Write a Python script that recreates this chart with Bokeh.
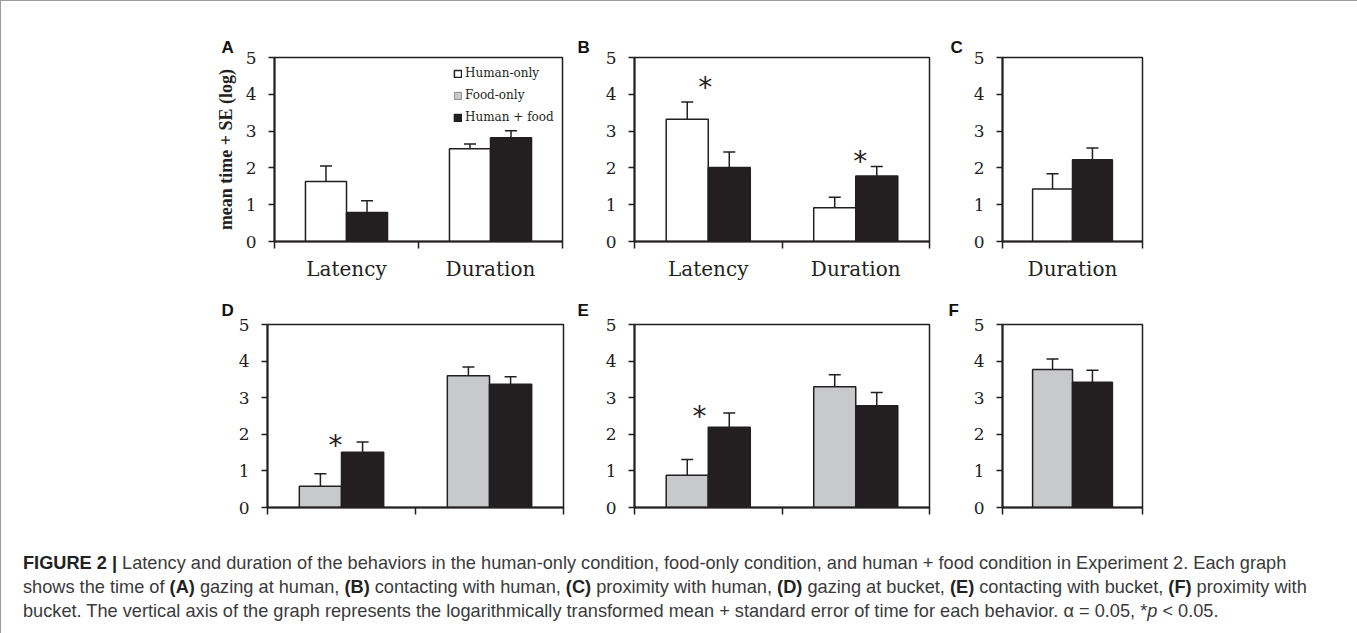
from bokeh.plotting import figure
from bokeh.models import (Range1d, LinearAxis, FixedTicker, Title,
                          Legend, LegendItem, ColumnDataSource, Div)
from bokeh.layouts import column, row
from bokeh.transform import dodge
from bokeh.core.properties import value
from bokeh.embed import file_html
from bokeh.resources import INLINE

# ---------------- data ----------------
conditions = ["Human-only", "Food-only", "Human + food"]
cond_fill = {"Human-only": "#ffffff", "Food-only": "#c8c9cb", "Human + food": "#231f20"}

cats_two = ["Latency", "Duration"]
cats_one = ["Duration"]

# (A) gazing at human
A_human_only_mean = [1.63, 2.52]
A_human_only_se = [0.42, 0.13]
A_human_food_mean = [0.79, 2.82]
A_human_food_se = [0.32, 0.19]
# (B) contacting with human
B_human_only_mean = [3.32, 0.92]
B_human_only_se = [0.47, 0.28]
B_human_food_mean = [2.01, 1.78]
B_human_food_se = [0.42, 0.26]
# (C) proximity with human
C_human_only_mean = [1.43]
C_human_only_se = [0.41]
C_human_food_mean = [2.22]
C_human_food_se = [0.32]
# (D) gazing at bucket
D_food_only_mean = [0.58, 3.60]
D_food_only_se = [0.34, 0.24]
D_human_food_mean = [1.51, 3.37]
D_human_food_se = [0.28, 0.20]
# (E) contacting with bucket
E_food_only_mean = [0.88, 3.30]
E_food_only_se = [0.43, 0.33]
E_human_food_mean = [2.19, 2.78]
E_human_food_se = [0.39, 0.36]
# (F) proximity with bucket
F_food_only_mean = [3.77]
F_food_only_se = [0.29]
F_human_food_mean = [3.42]
F_human_food_se = [0.33]

# significance stars (category, height in axis units)
B_star_cats = ["Latency", "Duration"]
B_star_y = [4.30, 2.29]
D_star_cats = ["Latency"]
D_star_y = [1.79]
E_star_cats = ["Latency"]
E_star_y = [2.59]

y_ticks = [0, 1, 2, 3, 4, 5]

INK = "#231f20"
SERIF = "DejaVu Serif"
BAR_W = 0.285
HALF = BAR_W / 2


def panel(letter, cats, series, width, height, bl, br, bt, bb, letter_off, letter_standoff,
          show_labels=True, ylabel=None, legend=False, stars=None):
    n = len(cats)
    centre = {c: i + 0.5 for i, c in enumerate(cats)}   # category slot centres on the x scale
    p = figure(x_range=Range1d(0, n), y_range=Range1d(0, 5),
               width=width, height=height, min_border_left=bl, min_border_right=br,
               min_border_top=bt, min_border_bottom=bb, x_axis_type=None,
               output_backend="svg", toolbar_location=None, tools="", title=None)
    p.background_fill_color = "white"
    p.border_fill_color = "white"
    p.outline_line_color = INK
    p.outline_line_width = 1.5
    p.xgrid.visible = False
    p.ygrid.visible = False

    # panel letter as a left-aligned title pushed out past the y axis
    p.add_layout(Title(text=letter, align="left", offset=letter_off, standoff=letter_standoff,
                       text_font="Liberation Sans", text_font_style="bold",
                       text_font_size="17px", text_color="#111111",
                       vertical_align="bottom"), "above")

    # y axis
    ya = p.yaxis[0]
    ya.ticker = FixedTicker(ticks=y_ticks, minor_ticks=[])
    ya.axis_line_color = INK
    ya.axis_line_width = 2
    ya.major_tick_line_color = INK
    ya.major_tick_line_width = 1.5
    ya.major_tick_out = 6
    ya.major_tick_in = 0
    ya.minor_tick_line_color = None
    ya.major_label_text_font = SERIF
    ya.major_label_text_font_size = "17px"
    ya.major_label_text_color = INK
    ya.major_label_standoff = 12
    if ylabel:
        ya.axis_label = ylabel
        ya.axis_label_text_font = "Liberation Serif"
        ya.axis_label_text_font_style = "bold"
        ya.axis_label_text_font_size = "18px"
        ya.axis_label_text_color = INK
        ya.axis_label_standoff = 7

    # x axis: labels at category centres, ticks at category boundaries
    overrides = {centre[c]: (c if show_labels else "") for c in cats}
    xa = LinearAxis(ticker=FixedTicker(ticks=[centre[c] for c in cats],
                                       minor_ticks=[float(i) for i in range(n + 1)]),
                    major_label_overrides=overrides)
    xa.axis_line_color = INK
    xa.axis_line_width = 2
    xa.major_tick_line_color = None
    xa.major_tick_out = 0
    xa.major_tick_in = 0
    xa.minor_tick_line_color = INK
    xa.minor_tick_line_width = 1.5
    xa.minor_tick_out = 7
    xa.minor_tick_in = 0
    xa.major_label_text_font = SERIF
    xa.major_label_text_font_size = "20px"
    xa.major_label_text_color = INK
    xa.major_label_standoff = 8
    p.add_layout(xa, "below")

    renderers = {}
    offsets = [-HALF, HALF]
    for (cond, mean, se), off in zip(series, offsets):
        upper = [m + s for m, s in zip(mean, se)]
        src = ColumnDataSource(dict(cat=cats, pos=[centre[c] for c in cats],
                                    mean=mean, upper=upper))
        xs = dodge("pos", off)
        r = p.vbar(x=xs, top="mean", bottom=0, width=BAR_W, source=src,
                   fill_color=cond_fill[cond], line_color=INK, line_width=1.5)
        p.segment(x0=xs, y0="mean", x1=xs, y1="upper", source=src,
                  line_color=INK, line_width=1.5)
        p.scatter(x=xs, y="upper", marker="dash", size=12, source=src,
                  line_color=INK, line_width=1.5)
        renderers[cond] = r

    if legend:
        items = []
        for cond in conditions:
            if cond not in renderers:
                # legend-only proxy (condition not measured in this panel)
                proxy = ColumnDataSource(dict(pos=[float("nan")], mean=[float("nan")]))
                renderers[cond] = p.vbar(x="pos", top="mean", width=BAR_W, source=proxy,
                                         fill_color=cond_fill[cond], line_color="#8a8a8a",
                                         line_width=1)
            items.append(LegendItem(label=cond, renderers=[renderers[cond]]))
        lg = Legend(items=items, location=(179, 117), padding=0, margin=0,
                    border_line_color=None, background_fill_alpha=0,
                    glyph_width=9, glyph_height=9, label_standoff=3,
                    label_height=14, spacing=8,
                    label_text_font=SERIF, label_text_font_size="12px",
                    label_text_color=INK)
        p.add_layout(lg)

    if stars:
        s_cats, s_y, s_dx = stars
        ssrc = ColumnDataSource(dict(pos=[centre[c] + dx for c, dx in zip(s_cats, s_dx)],
                                     y=s_y))
        p.text(x="pos", y="y", text=value("*"),
               source=ssrc, text_font=value("DejaVu Sans"), text_font_size="28px",
               text_align="center", text_baseline="middle", text_color=INK,
               y_offset=4)
    return p


pA = panel("A", cats_two,
           [("Human-only", A_human_only_mean, A_human_only_se),
            ("Human + food", A_human_food_mean, A_human_food_se)],
           569, 289, 273, 8, 56, 49, -53, 2,
           ylabel="mean time + SE (log)", legend=True)
pB = panel("B", cats_two,
           [("Human-only", B_human_only_mean, B_human_only_se),
            ("Human + food", B_human_food_mean, B_human_food_se)],
           370, 289, 64, 11, 56, 49, -57, 2,
           stars=(B_star_cats, B_star_y, [-0.02, 0.03]))
pC = panel("C", cats_one,
           [("Human-only", C_human_only_mean, C_human_only_se),
            ("Human + food", C_human_food_mean, C_human_food_se)],
           414, 289, 62, 212, 56, 49, -52, 2)

pD = panel("D", cats_two,
           [("Food-only", D_food_only_mean, D_food_only_se),
            ("Human + food", D_human_food_mean, D_human_food_se)],
           569, 240, 266, 7, 34, 23, -46, 9, show_labels=False,
           stars=(D_star_cats, D_star_y, [-0.04]))
pE = panel("E", cats_two,
           [("Food-only", E_food_only_mean, E_food_only_se),
            ("Human + food", E_human_food_mean, E_human_food_se)],
           370, 240, 64, 11, 34, 23, -57, 9, show_labels=False,
           stars=(E_star_cats, E_star_y, [-0.06]))
pF = panel("F", cats_one,
           [("Food-only", F_food_only_mean, F_food_only_se),
            ("Human + food", F_human_food_mean, F_human_food_se)],
           414, 240, 62, 212, 34, 23, -54, 9, show_labels=False)

caption_html = (
    "<b style='color:#222'>FIGURE 2 |</b> Latency and duration of the behaviors in the human-only "
    "condition, food-only condition, and human + food condition in Experiment 2. Each graph<br>"
    "shows the time of <b style='color:#222'>(A)</b> gazing at human, <b style='color:#222'>(B)</b> "
    "contacting with human, <b style='color:#222'>(C)</b> proximity with human, "
    "<b style='color:#222'>(D)</b> gazing at bucket, <b style='color:#222'>(E)</b> contacting with bucket, "
    "<b style='color:#222'>(F)</b> proximity with<br>"
    "bucket. The vertical axis of the graph represents the logarithmically transformed mean + "
    "standard error of time for each behavior. &alpha; = 0.05, *<i>p</i> &lt; 0.05."
)
caption = Div(text=caption_html, width=1353, height=100,
              styles={"font-family": "Liberation Sans, sans-serif", "font-size": "18.2px",
                      "line-height": "24px", "color": "#3a3a3a", "padding-top": "16px",
                      "padding-left": "17px", "box-sizing": "border-box",
                      "white-space": "nowrap"})

p = column(row(pA, pB, pC), row(pD, pE, pF), caption,
           styles={"border": "1px solid #9a9a9a", "background-color": "white"})

open("out.html", "w").write(file_html(p, INLINE))
